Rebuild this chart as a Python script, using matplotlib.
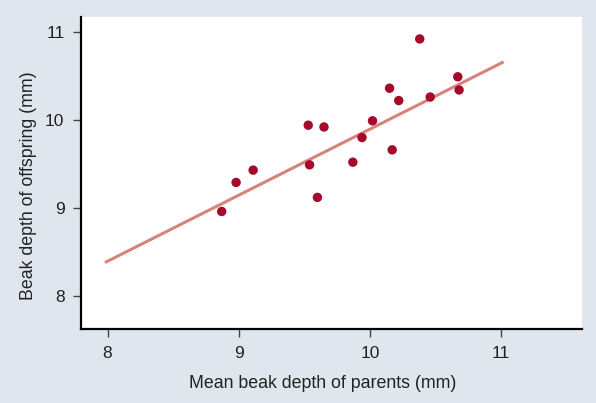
import numpy as np
import matplotlib
matplotlib.use("Agg")
import matplotlib.pyplot as plt

plt.rcParams['font.family'] = ['Liberation Sans', 'DejaVu Sans']

# mean beak depth of parents (mm) vs beak depth of offspring (mm)
parents = [8.87, 8.98, 9.11, 9.53, 9.65, 9.54, 9.60, 9.87, 9.94, 10.02,
           10.15, 10.22, 10.17, 10.38, 10.46, 10.67, 10.68]
offspring = [8.96, 9.29, 9.43, 9.94, 9.92, 9.49, 9.12, 9.52, 9.80, 9.99,
             10.36, 10.22, 9.66, 10.92, 10.26, 10.49, 10.34]

# regression line end points
fit_x = [7.98, 11.02]
fit_y = [8.38, 10.66]

xticks = [8, 9, 10, 11]
yticks = [8, 9, 10, 11]

bg = '#e0e6ed'
fig = plt.figure(figsize=(5.96, 4.03), dpi=100, facecolor=bg)
ax = fig.add_axes([0.136, 0.1836, 0.8405, 0.7744])
ax.set_facecolor('white')

ax.plot(fit_x, fit_y, color='#d7837c', lw=2.2, solid_capstyle='butt', zorder=2)
ax.scatter(parents, offspring, s=46, color='#a50a2a', edgecolors='none', zorder=3)

ax.set_xlim(7.798, 11.617)
ax.set_ylim(7.625, 11.17)
ax.set_xticks(xticks)
ax.set_yticks(yticks)

for side in ['top', 'right']:
    ax.spines[side].set_visible(False)
for side in ['left', 'bottom']:
    ax.spines[side].set_linewidth(1.6)
    ax.spines[side].set_color('#000000')

ax.tick_params(direction='out', length=6, width=1, color='#444444',
               labelsize=12.5, labelcolor='#222222', pad=6)

ax.set_xlabel('Mean beak depth of parents (mm)', fontsize=12.8, color='#222222')
ax.set_ylabel('Beak depth of offspring (mm)', fontsize=12.8, color='#222222')
ax.xaxis.set_label_coords(0.482, -0.148)
ax.yaxis.set_label_coords(-0.088, 0.458)

fig.savefig('out.png', dpi=100, facecolor=bg)
